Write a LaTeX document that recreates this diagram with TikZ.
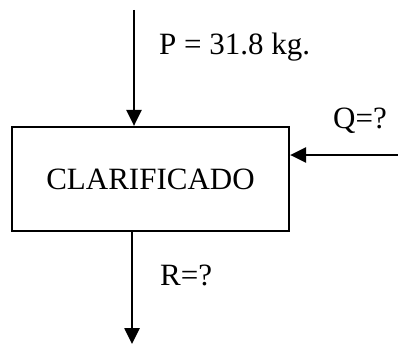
\documentclass[tikz,border=0pt]{standalone}
\usepackage{fontspec}
\setmainfont{Liberation Serif}
\usetikzlibrary{arrows.meta,positioning}

\begin{document}
\begin{tikzpicture}[x=1pt, y=-1pt, font=\fontsize{31}{37}\selectfont,
  box/.style={rectangle, draw, line width=2.2pt, minimum width=277pt, minimum height=104pt, inner sep=0pt},
  flow/.style={line width=2.6pt, -{Triangle[length=16pt,width=15pt]}},
  lbl/.style={anchor=base west, inner sep=0pt}]
\useasboundingbox (0,0) rectangle (398,345);
\node[box] (clar) at (150.5,179) {CLARIFICADO};
\coordinate (pin) at (134,10);
\coordinate (qin) at (398,155);
\coordinate (rout) at (132,344);
\draw[flow] (pin) -- (pin |- clar.north);
\draw[flow] (qin) -- (qin -| clar.east);
\draw[flow] (rout |- clar.south) -- (rout);
\node[lbl] (plbl) at (159,54) {P = 31.8 kg.};
\node[lbl] (qlbl) at (333,128) {Q=?};
\node[lbl] (rlbl) at (160,285) {R=?};
\end{tikzpicture}
\end{document}
